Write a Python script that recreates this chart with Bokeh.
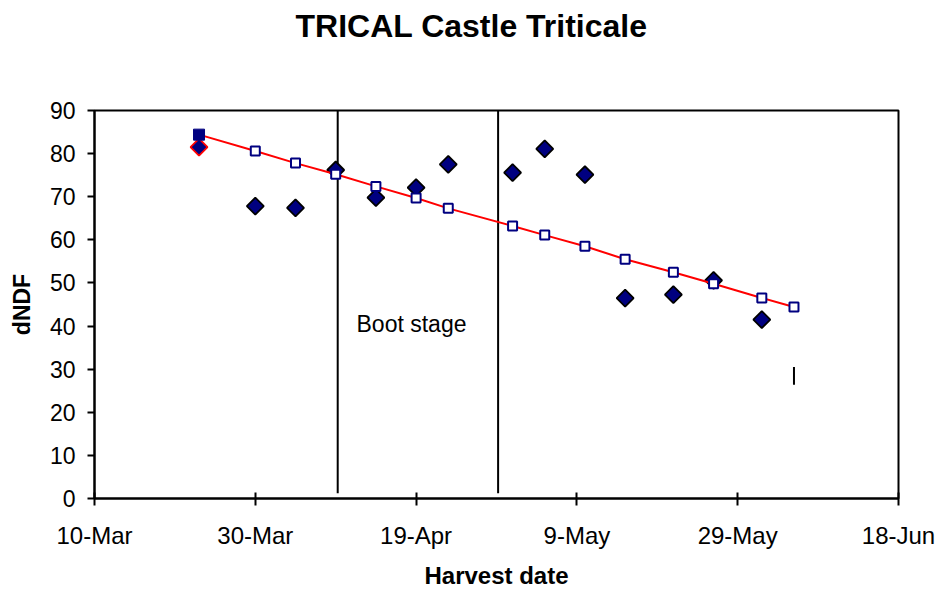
import math
import pandas as pd
from bokeh.plotting import figure
from bokeh.models import Label, FixedTicker, Range1d, Title
from bokeh.embed import file_html
from bokeh.resources import INLINE

# ---------------- data ----------------
start_date = "2000-03-10"
harvest_dates = ["2000-03-23", "2000-03-30", "2000-04-04", "2000-04-09", "2000-04-14",
                 "2000-04-19", "2000-04-23", "2000-05-01", "2000-05-05", "2000-05-10",
                 "2000-05-15", "2000-05-21", "2000-05-26", "2000-06-01", "2000-06-05"]
measured_dndf = [81.5, 67.8, 67.4, 76.2, 69.8, 72.1, 77.5, 75.6, 81.1, 75.1,
                 46.5, 47.3, 50.6, 41.5]
fitted_dndf = [84.4, 80.6, 77.8, 75.2, 72.4, 69.7, 67.3, 63.2, 61.1, 58.5,
               55.5, 52.5, 49.8, 46.5, 44.4]
tick_dates = ["2000-03-10", "2000-03-30", "2000-04-19", "2000-05-09", "2000-05-29", "2000-06-18"]
tick_labels = ["10-Mar", "30-Mar", "19-Apr", "9-May", "29-May", "18-Jun"]
y_ticks = [0, 10, 20, 30, 40, 50, 60, 70, 80, 90]
boot_stage_days = [30.25, 50.2]          # boundaries of boot stage (days after 10-Mar)
bar_date = "2000-06-05"
bar_low, bar_high = 26.4, 30.5

t0 = pd.Timestamp(start_date)
days = [int((pd.Timestamp(d) - t0).days) for d in harvest_dates]
tick_days = [int((pd.Timestamp(d) - t0).days) for d in tick_dates]
bar_day = int((pd.Timestamp(bar_date) - t0).days)

NAVY = "#000080"
FONT = "Liberation Sans"

p = figure(width=937, height=591, x_range=Range1d(0, 100), y_range=Range1d(0, 90),
           output_backend="svg", toolbar_location=None,
           min_border_left=94, min_border_right=39, min_border_top=110, min_border_bottom=93,
           background_fill_color="white", border_fill_color="white")
p.xgrid.visible = False
p.ygrid.visible = False
p.outline_line_color = "black"
p.outline_line_width = 2

# spacer panel between the frame and the title
p.add_layout(Title(text="\u00a0", text_font=FONT, text_font_size="10px", standoff=54), "above")

# title
p.title.text = "TRICAL Castle Triticale"
p.title.text_font = FONT
p.title.text_font_size = "32px"
p.title.text_font_style = "bold"
p.title.text_color = "black"
p.title.align = "left"
p.title.offset = 201
p.title.vertical_align = "bottom"
p.title.standoff = 0

p.xaxis.ticker = FixedTicker(ticks=tick_days)
p.xaxis.major_label_overrides = {d: l for d, l in zip(tick_days, tick_labels)}
p.yaxis.ticker = FixedTicker(ticks=y_ticks)
for ax in (p.xaxis[0], p.yaxis[0]):
    ax.axis_line_color = "black"
    ax.axis_line_width = 2
    ax.major_tick_line_color = "black"
    ax.major_tick_line_width = 2
    ax.minor_tick_line_color = None
    ax.major_label_text_font = FONT
    ax.major_label_text_color = "black"
    ax.axis_label_text_font = FONT
    ax.axis_label_text_font_style = "bold"
    ax.axis_label_text_color = "black"
p.xaxis.major_label_text_font_size = "24px"
p.yaxis.major_label_text_font_size = "23px"
p.xaxis.major_tick_in = 6
p.xaxis.major_tick_out = 7
p.xaxis.major_label_standoff = 16
p.xaxis.axis_label = "Harvest date"
p.xaxis.axis_label_text_font_size = "24px"
p.xaxis.axis_label_standoff = 10
p.yaxis.major_tick_in = 0
p.yaxis.major_tick_out = 7
p.yaxis.major_label_standoff = 12
p.yaxis.axis_label = "dNDF"
p.yaxis.axis_label_text_font_size = "23px"
p.yaxis.axis_label_standoff = 12

# boot stage boundaries
p.segment(x0=boot_stage_days, y0=[1.2] * len(boot_stage_days), x1=boot_stage_days,
          y1=[90] * len(boot_stage_days), line_color="black", line_width=2)
# small bar near last date
p.segment(x0=[bar_day], y0=[bar_low], x1=[bar_day], y1=[bar_high], line_color="black", line_width=2)

# measured (diamonds)
n = len(measured_dndf)
outline = ["red"] + ["black"] * (n - 1)
p.scatter(x=days[:n], y=measured_dndf, marker="square", angle=math.pi / 4, size=12,
          fill_color=NAVY, line_color=outline, line_width=1.8)

# fitted line with squares
p.line(x=days, y=fitted_dndf, line_color="red", line_width=2)
p.scatter(x=days[1:], y=fitted_dndf[1:], marker="square", size=9,
          fill_color="white", line_color=NAVY, line_width=2)
p.scatter(x=days[:1], y=fitted_dndf[:1], marker="square", size=11,
          fill_color=NAVY, line_color=NAVY, line_width=1)

# "Boot stage" text (screen units relative to frame)
p.add_layout(Label(x=262, y=175, x_units="screen", y_units="screen",
                   text="Boot stage", text_font=FONT, text_font_size="23px",
                   text_align="left", text_baseline="alphabetic", text_color="black"))

open("out.html", "w").write(file_html(p, INLINE))
